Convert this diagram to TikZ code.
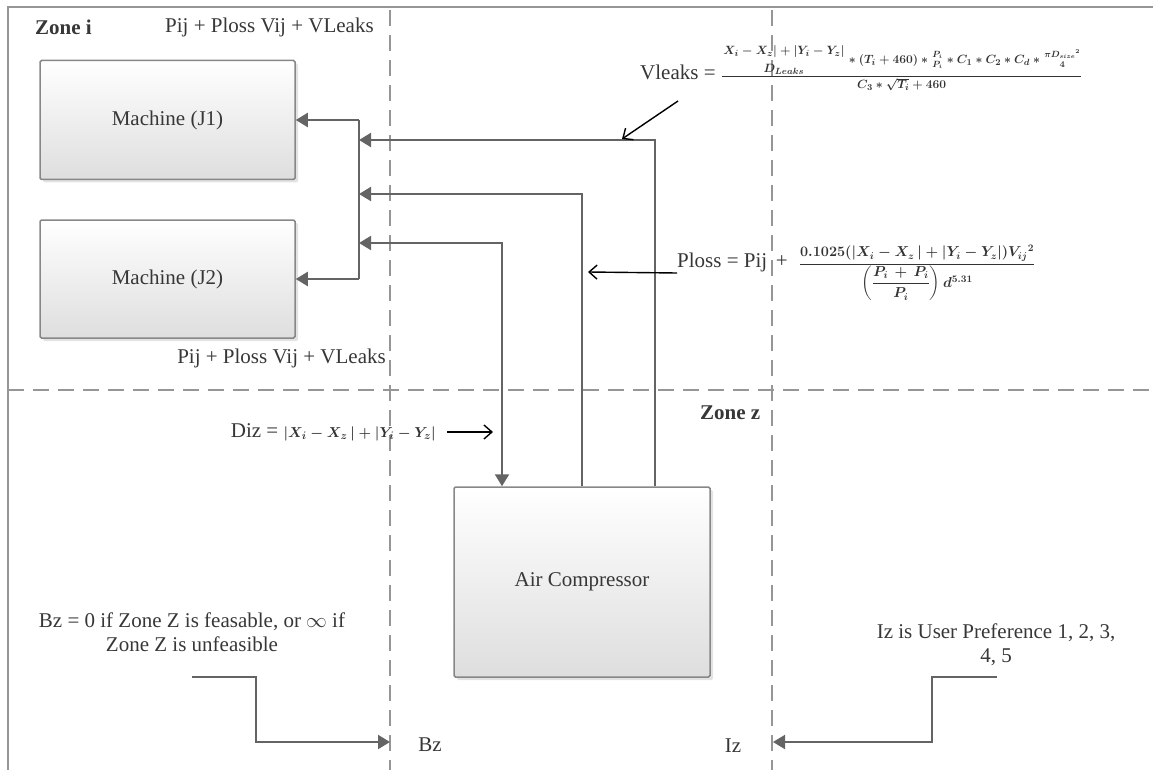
\documentclass[tikz,border=0pt]{standalone}
\usepackage{fontspec}
\setmainfont{Liberation Serif}
\usepackage{amsmath}
\usetikzlibrary{arrows.meta,shadows}
\definecolor{linec}{RGB}{100,100,100}
\definecolor{dashc}{RGB}{150,150,150}
\definecolor{framec}{RGB}{150,150,150}
\definecolor{txt}{RGB}{55,55,55}
\definecolor{boxb}{RGB}{135,135,135}
\tikzset{
  box/.style={draw=boxb, line width=1.5pt, rounded corners=1.5pt, top color=white, bottom color=black!13,
    drop shadow={opacity=0.22, shadow xshift=3pt, shadow yshift=-3pt},
    font=\fontsize{21}{25}\selectfont, text=txt, inner sep=0pt},
  lbl/.style={font=\fontsize{21}{24}\selectfont, text=txt, inner sep=0pt},
  conn/.style={draw=linec, line width=2pt},
  tofill/.style={-{Triangle[length=12pt,width=14pt]}},
  bothfill/.style={{Triangle[length=12pt,width=14pt]}-{Triangle[length=12pt,width=14pt]}},
  pointer/.style={draw=black, line width=1.4pt, -{Straight Barb[length=8pt,width=14pt,line width=1.4pt]}},
  zoneline/.style={draw=dashc, line width=1.6pt, dash pattern=on 16pt off 9pt},
  frameline/.style={draw=framec, line width=2.2pt}
}
\begin{document}
\begin{tikzpicture}[x=1pt,y=-1pt]
\useasboundingbox (0,0) rectangle (1153,770);
% frame
\coordinate (fTL) at (8,7);
\coordinate (fTR) at (1153,7);
\coordinate (fBL) at (8,770);
\draw[frameline] (fTR) -- (fTL) -- (fBL);
% zone lines
\coordinate (zA1) at (390,10); \coordinate (zA2) at (390,770);
\coordinate (zB1) at (772,10); \coordinate (zB2) at (772,770);
\coordinate (zH1) at (8,390);  \coordinate (zH2) at (1153,390);
\draw[zoneline] (zA1) -- (zA2);
\draw[zoneline] (zB1) -- (zB2);
\draw[zoneline] (zH1) -- (zH2);

% boxes
\node[box, minimum width=255pt, minimum height=119pt] (J1) at (167.5,120) {Machine (J1)};
\node[box, minimum width=255pt, minimum height=118pt] (J2) at (167.5,279) {Machine (J2)};
\node[box, minimum width=256pt, minimum height=190pt] (comp) at (582,582) {Air Compressor};

% bus
\coordinate (bT) at (359,120);
\coordinate (bB) at (359,279);
\draw[conn] (bT) -- (bB);
\draw[conn, tofill] (bT) -- (J1.east);
\draw[conn, tofill] (bB) -- (J2.east);

% supply lines
\coordinate (s1) at (655,140);
\coordinate (s2) at (582,194);
\coordinate (s3) at (502,243);
\draw[conn, tofill] (comp.north -| s1) |- (bT |- s1);
\draw[conn, tofill] (comp.north -| s2) |- (bT |- s2);
\draw[conn, bothfill] (bT |- s3) -| (comp.north -| s3);

% labels
\node[lbl, anchor=west] (zi) at (35,27) {\textbf{Zone i}};
\node[lbl, anchor=west] (top) at (165,27) {Pij + Ploss Vij + VLeaks};
\node[lbl, anchor=east] (bot) at (386,358) {Pij + Ploss Vij + VLeaks};
\node[lbl, anchor=west] (zz) at (700,413) {\textbf{Zone z}};

% Vleaks formula
\node[lbl, anchor=west] (vl) at (640,68) {Vleaks = {\fontsize{13}{15}\selectfont\boldmath\color{black!80}$\dfrac{\genfrac{}{}{0pt}{0}{X_i - X_z| + |Y_i - Y_z|}{D_{Leaks}} * (T_i + 460) * \genfrac{}{}{0pt}{1}{P_i}{P_i} * C_1 * C_2 * C_d * \genfrac{}{}{0pt}{1}{\pi D_{size}{}^2}{4}}{C_3 * \sqrt{T_i} + 460}$}};
\coordinate (vlp) at (678,101);
\coordinate (vlq) at (622,139);
\draw[pointer] (vlp) -- (vlq);

% Ploss formula
\node[lbl, anchor=west] (pl) at (677,273) {Ploss = Pij \,+\; {\fontsize{14}{16}\selectfont\boldmath\color{black!80}$\dfrac{0.1025(|X_i - X_z\,| + |Y_i - Y_z|)V_{ij}{}^2}{\left(\dfrac{P_i\, +\, P_i}{P_i}\right)d^{5.31}}$}};
\coordinate (pla) at (588,272);
\draw[pointer] (pl.west) -- (pla);

% Diz
\node[lbl, anchor=east] (dz) at (436,432) {Diz = {\fontsize{15.5}{18}\selectfont\boldmath\color{black!80}$|X_i - X_z\,| + |Y_i - Y_z|$}};
\coordinate (dza) at (493,432);
\draw[pointer] ([xshift=11pt]dz.east) -- (dza);

% Bz
\node[lbl, align=center] (bzt) at (192,632) {Bz = 0 if Zone Z is feasable, or $\infty$ if\\Zone Z is unfeasible};
\coordinate (bzs) at (192,677);
\coordinate (bzk) at (256,742);
\coordinate (bzin) at (390,742);
\draw[conn, tofill] (bzs) -| (bzk) -- (bzin);
\node[lbl] (bz) at (430,745) {Bz};

% Iz
\node[lbl, align=center] (izt) at (996,645) {Iz is User Preference 1, 2, 3,\\4, 5};
\coordinate (izs) at (997,677);
\coordinate (izk) at (932,742);
\coordinate (izin) at (773,742);
\draw[conn, tofill] (izs) -| (izk) -- (izin);
\node[lbl] (iz) at (733,746) {Iz};
\end{tikzpicture}
\end{document}
